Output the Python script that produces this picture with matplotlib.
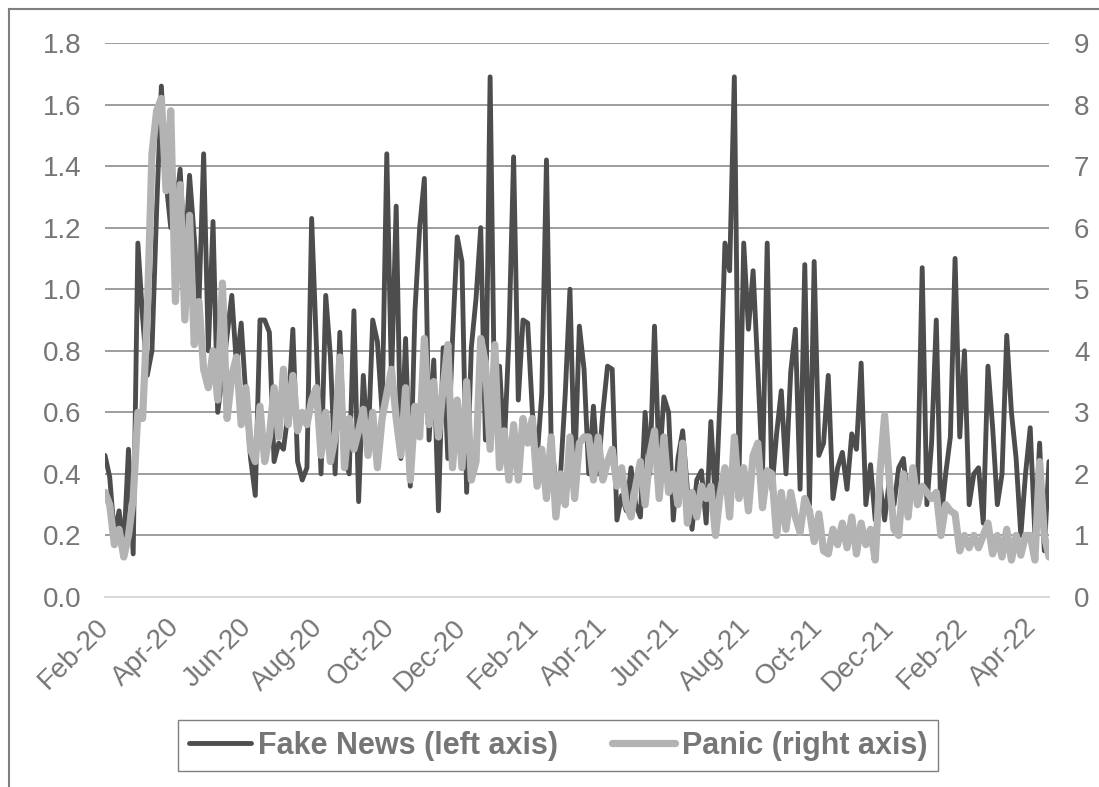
import matplotlib
matplotlib.use("Agg")
import matplotlib.pyplot as plt
import matplotlib.dates as mdates
from matplotlib.lines import Line2D
import numpy as np
import pandas as pd

# readings every 4 days, Feb-20 .. Apr-22
start_date = "2020-02-15"
step_days = 4

fake_news = [
    0.46, 0.39, 0.2, 0.28, 0.16, 0.48, 0.14, 1.15, 0.91, 0.72,
    0.8, 1.26, 1.66, 1.35, 1.2, 1.25, 1.39, 1.1, 1.37, 1.17,
    0.95, 1.44, 0.8, 1.22, 0.6, 0.72, 0.85, 0.98, 0.75, 0.89,
    0.65, 0.45, 0.33, 0.9, 0.9,
    0.86, 0.44, 0.5, 0.48, 0.6, 0.87, 0.44, 0.38, 0.42, 1.23,
    0.82, 0.4, 0.98, 0.78, 0.4, 0.86, 0.45, 0.4, 0.93, 0.31,
    0.72, 0.48, 0.9, 0.83, 0.6, 1.44, 0.7, 1.27, 0.45, 0.84,
    0.36, 0.93, 1.2, 1.36,
    0.51, 0.77, 0.28, 0.81, 0.45, 0.84, 1.17, 1.09, 0.34, 0.81,
    0.97, 1.2, 0.51, 1.69, 0.55, 0.75, 0.48, 0.84, 1.43, 0.64,
    0.9, 0.89, 0.6, 0.45, 0.66, 1.42, 0.5, 0.38, 0.4, 0.66,
    1.0, 0.4, 0.88, 0.74,
    0.4, 0.62, 0.4, 0.6, 0.75, 0.74, 0.25, 0.33, 0.28, 0.42,
    0.3, 0.26, 0.6, 0.4, 0.88, 0.42, 0.65, 0.6, 0.25, 0.45,
    0.54, 0.35, 0.22, 0.38, 0.41, 0.24, 0.57, 0.3, 0.66, 1.15,
    1.06, 1.69, 0.4, 1.15,
    0.87, 1.06, 0.74, 0.4, 1.15, 0.35, 0.53, 0.67, 0.4, 0.73,
    0.87, 0.35, 1.08, 0.3, 1.09, 0.46, 0.5, 0.72, 0.32, 0.42,
    0.47, 0.35, 0.53, 0.48, 0.76, 0.3, 0.43, 0.25, 0.37, 0.25,
    0.38, 0.3, 0.42, 0.45,
    0.3, 0.38, 0.35, 1.07, 0.3, 0.5, 0.9, 0.25, 0.4, 0.52,
    1.1, 0.52, 0.8, 0.3, 0.4, 0.42, 0.24, 0.75, 0.55, 0.3,
    0.4, 0.85, 0.6, 0.45, 0.2, 0.4, 0.55, 0.2, 0.5, 0.15,
    0.44,
]

panic = [
    1.7, 1.5, 0.85, 1.1, 0.65, 1.0, 1.6, 3.0, 2.9, 4.6,
    7.2, 7.9, 8.1, 6.6, 7.9, 4.8, 6.7, 4.5, 6.2, 4.1,
    4.8, 3.7, 3.4, 4.0, 3.2, 5.1, 2.9, 3.6, 3.9, 2.8,
    3.4, 2.4, 2.2, 3.1, 2.2,
    2.6, 3.4, 2.6, 3.7, 2.8, 3.6, 2.7, 3.0, 2.8, 3.2,
    3.4, 2.3, 3.0, 2.2, 2.6, 3.9, 2.1, 2.9, 2.4, 2.7,
    3.05, 2.3, 3.0, 2.1, 2.9, 3.3, 3.7, 2.9, 2.3, 3.4,
    1.9, 3.1, 2.6, 4.2,
    2.8, 3.5, 2.6, 3.4, 4.1, 2.1, 3.2, 2.1, 3.5, 1.9,
    2.2, 4.2, 3.8, 2.4, 4.1, 2.1, 2.7, 1.9, 2.8, 1.9,
    2.9, 2.5, 2.9, 1.8, 2.4, 1.6, 2.6, 1.3, 2.0, 1.5,
    2.6, 1.6, 2.5, 2.6,
    2.6, 1.9, 2.6, 1.9, 2.2, 2.4, 1.8, 2.1, 1.5, 1.3,
    1.8, 2.2, 1.5, 2.3, 2.7, 1.6, 2.6, 1.7, 2.0, 1.5,
    2.5, 1.2, 1.7, 1.3, 1.8, 1.6, 1.8, 1.0, 1.7, 2.1,
    1.3, 2.6, 1.6, 2.1,
    1.4, 2.3, 2.5, 1.45, 2.05, 2.0, 1.0, 1.7, 1.1, 1.7,
    1.3, 1.05, 1.6, 1.4, 0.9, 1.35, 0.75, 0.7, 1.1, 0.85,
    1.2, 0.8, 1.3, 0.7, 1.2, 0.85, 1.1, 0.6, 2.0, 2.95,
    1.9, 1.1, 1.0, 2.0,
    1.3, 2.1, 1.5, 1.8, 1.7, 1.6, 1.7, 1.0, 1.5, 1.4,
    1.35, 0.75, 1.0, 0.8, 1.0, 0.8, 1.0, 1.2, 0.7, 1.0,
    0.65, 1.1, 0.6, 1.0, 0.68, 1.0, 1.0, 0.6, 2.2, 1.0,
    0.65,
]

left_ticks = [0.0, 0.2, 0.4, 0.6, 0.8, 1.0, 1.2, 1.4, 1.6, 1.8]
right_ticks = [0, 1, 2, 3, 4, 5, 6, 7, 8, 9]

dates = pd.date_range(start_date, periods=len(fake_news), freq=f"{step_days}D")
tick_dates = pd.date_range(start_date, dates[-1], freq=pd.DateOffset(months=2))

plt.rcParams['font.family'] = ['Liberation Sans', 'DejaVu Sans']
text_col = '#767676'
dark = '#4d4d4d'
light = '#b3b3b3'

fig = plt.figure(figsize=(10.99, 7.87), dpi=100)
ax = fig.add_axes([105 / 1099, 190 / 787, 944 / 1099, 554 / 787])
ax2 = ax.twinx()

l1, = ax.plot(dates, fake_news, color=dark, lw=3.5,
              solid_capstyle='round', solid_joinstyle='round')
l2, = ax2.plot(dates, panic, color=light, lw=5.2,
               solid_capstyle='round', solid_joinstyle='round')

ax.set_xlim(dates[0], dates[-1])
ax.set_ylim(0, 1.8)
ax2.set_ylim(0, 9)
ax.set_yticks(left_ticks)
ax.set_yticklabels([f"{v:.1f}" for v in left_ticks])
ax2.set_yticks(right_ticks)

ax.set_xticks(tick_dates)
ax.xaxis.set_major_formatter(mdates.DateFormatter('%b-%y'))
for lbl in ax.get_xticklabels():
    lbl.set_rotation(45)
    lbl.set_ha('right')
    lbl.set_va('center')
    lbl.set_rotation_mode('anchor')

ax.grid(axis='y', color='#8c8c8c', lw=1.2)
ax.set_axisbelow(True)
for a in (ax, ax2):
    for s in a.spines.values():
        s.set_visible(False)
ax.spines['bottom'].set_visible(True)
ax.spines['bottom'].set_color('#d9d9d9')
ax.spines['bottom'].set_linewidth(1.5)

ax.tick_params(axis='y', length=0, pad=17, labelsize=20, labelcolor=text_col)
ax.tick_params(axis='x', length=0, pad=19, labelsize=20, labelcolor=text_col)
ax2.tick_params(axis='y', length=0, pad=18, labelsize=20, labelcolor=text_col)

leg = fig.legend([l1, l2], ["Fake News (left axis)", "Panic (right axis)"],
                 loc='upper left', bbox_to_anchor=(178 / 1099, 1 - 720 / 787),
                 ncol=2, frameon=True, fancybox=False, framealpha=1,
                 edgecolor='#7f7f7f', handlelength=2.05, handletextpad=0.23,
                 columnspacing=1.76, borderpad=0.35, borderaxespad=0,
                 prop={'size': 22, 'weight': 'bold'})
leg.get_frame().set_linewidth(1.0)
for t in leg.get_texts():
    t.set_color(text_col)
for h in leg.get_lines():
    h.set_solid_capstyle('round')

# outer chart frame (only top and left show in the crop)
fig.add_artist(Line2D([9 / 1099, 1], [1 - 9 / 787, 1 - 9 / 787],
                      transform=fig.transFigure, color='#7f7f7f', lw=1.5))
fig.add_artist(Line2D([9 / 1099, 9 / 1099], [0, 1 - 9 / 787],
                      transform=fig.transFigure, color='#7f7f7f', lw=1.5))

fig.savefig("out.png", dpi=100)
